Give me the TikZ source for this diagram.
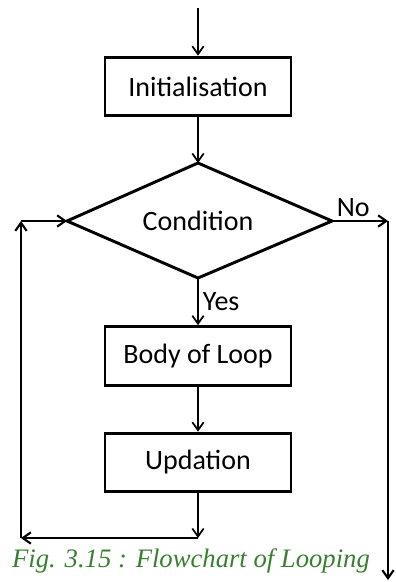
\documentclass[tikz,border=0pt]{standalone}
\usepackage{fontspec}
\setmainfont{Carlito}
\newfontfamily\capfont{Liberation Serif}
\usetikzlibrary{arrows.meta,shapes.geometric}
\definecolor{capgreen}{RGB}{56,128,48}
\begin{document}
\begin{tikzpicture}[x=0.75pt,y=-0.75pt,
  box/.style={draw,line width=2.2pt,minimum width=139.5pt,minimum height=44pt,inner sep=0pt,font=\fontsize{21}{24}\selectfont},
  flow/.style={line width=1.3pt,-{Straight Barb[length=6pt,width=8.5pt,line width=1.3pt]}},
  loop/.style={line width=2.2pt,-{Straight Barb[length=6pt,width=8.5pt,line width=1.6pt]}},
  lbl/.style={font=\fontsize{21}{24}\selectfont,inner sep=0pt}]
\useasboundingbox (0,0) rectangle (396,582);
\coordinate (start) at (198,8);
\node[box] (init) at (198,86.5) {Initialisation};
\draw[line width=2.2pt] (198,163) coordinate (dtop) -- (332,221) coordinate (dright) -- (198,278) coordinate (dbot) -- (67,221) coordinate (dleft) -- cycle;
\node[lbl] (cond) at (198,221) {Condition};
\node[box] (body) at (198,356) {Body of Loop};
\node[box] (upd) at (198,462.5) {Updation};
\coordinate (rtop) at (388,221);
\coordinate (rend) at (388,580);
\coordinate (bmid) at (198,538);
\coordinate (lbot) at (21,538);
\coordinate (ltop) at (21,221);
\draw[flow] (start) -- (init.north);
\draw[flow] (init.south) -- (dtop);
\draw[flow] (dbot) -- node[lbl,right=3pt] (yes) {Yes} (body.north);
\draw[flow] (body.south) -- (upd.north);
\draw[flow] (upd.south) -- (bmid);
\draw[loop] (bmid) -- (lbot);
\draw[loop] (lbot) -- (ltop);
\draw[loop] (ltop) -- (dleft);
\draw[loop] (dright) -- node[lbl,above=2pt,pos=0.38] (no) {No} (rtop);
\draw[loop] (rtop) -- (rend);
\node[inner sep=0pt,text=capgreen,font=\capfont\itshape\fontsize{20}{22}\selectfont] (cap) at (191,561) {Fig. 3.15 : Flowchart of Looping};
\end{tikzpicture}
\end{document}
